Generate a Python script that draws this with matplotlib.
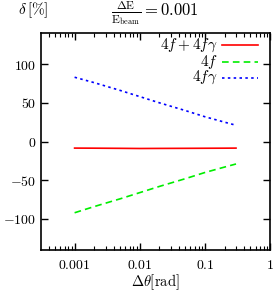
import matplotlib
matplotlib.use("Agg")
import matplotlib.pyplot as plt
from matplotlib.lines import Line2D
from matplotlib.ticker import FuncFormatter, LogLocator, MultipleLocator

plt.rcParams['mathtext.fontset'] = 'cm'
plt.rcParams['font.family'] = 'DejaVu Serif'

theta = [0.001, 0.002, 0.005, 0.01, 0.02, 0.05, 0.1, 0.2, 0.3]
total = [-8.5, -8.6, -8.8, -9.0, -8.9, -8.8, -8.7, -8.6, -8.5]
f4 = [-92, -84, -74, -66, -58, -48, -40, -33, -29]
f4g = [83, 76, 66, 58, 50, 40, 32, 25, 21]

labels = [r'$4f+4f\gamma$', r'$4f$', r'$4f\gamma$']
colors = ['#ff0000', '#00ee00', '#0000ff']
styles = ['-', (0, (4, 2.5)), (0, (1.5, 2))]
series = [total, f4, f4g]

fig = plt.figure(figsize=(2.77, 2.93), dpi=100)
ax = fig.add_axes([0.148, 0.147, 0.827, 0.740])
for vals, c, ls in zip(series, colors, styles):
    ax.plot(theta, vals, color=c, lw=1.2, ls=ls)
ax.set_xscale('log')
ax.set_xlim(3.05e-4, 1)
ax.set_ylim(-140, 140)
ax.yaxis.set_major_locator(MultipleLocator(50))
ax.xaxis.set_major_locator(LogLocator(base=10, numticks=10))
ax.xaxis.set_minor_locator(LogLocator(base=10, subs=range(2, 10), numticks=20))
ax.xaxis.set_major_formatter(FuncFormatter(lambda v, p: r'$%g$' % v))
ax.yaxis.set_major_formatter(FuncFormatter(lambda v, p: r'$%d$' % v))
ax.tick_params(which='both', direction='in', top=True, right=True, labelsize=10)
ax.tick_params(which='major', length=5, width=1)
ax.tick_params(which='minor', length=3, width=0.8)
ax.tick_params(axis='x', pad=6)
for s in ax.spines.values():
    s.set_linewidth(1.2)
ax.set_xlabel(r'$\Delta\theta[\mathrm{rad}]$', fontsize=10.5, labelpad=0)
fig.text(0.12, 0.965, r'$\delta\,[\%]$', fontsize=11, ha='center', va='center')
fig.text(0.56, 0.955, r'$\frac{\Delta \mathrm{E}}{\mathrm{E}_{\mathrm{beam}}} = 0.001$',
         fontsize=12, ha='center', va='center')

# legend: labels right-aligned, sample lines to their right
leg_y = [0.944, 0.868, 0.795]
for lab, c, ls, yy in zip(labels, colors, styles, leg_y):
    ax.text(0.772, yy, lab, transform=ax.transAxes, ha='right', va='center', fontsize=11)
    ax.add_line(Line2D([0.790, 0.948], [yy, yy], transform=ax.transAxes,
                       color=c, lw=1.2, ls=ls))
fig.savefig('out.png', dpi=100)
